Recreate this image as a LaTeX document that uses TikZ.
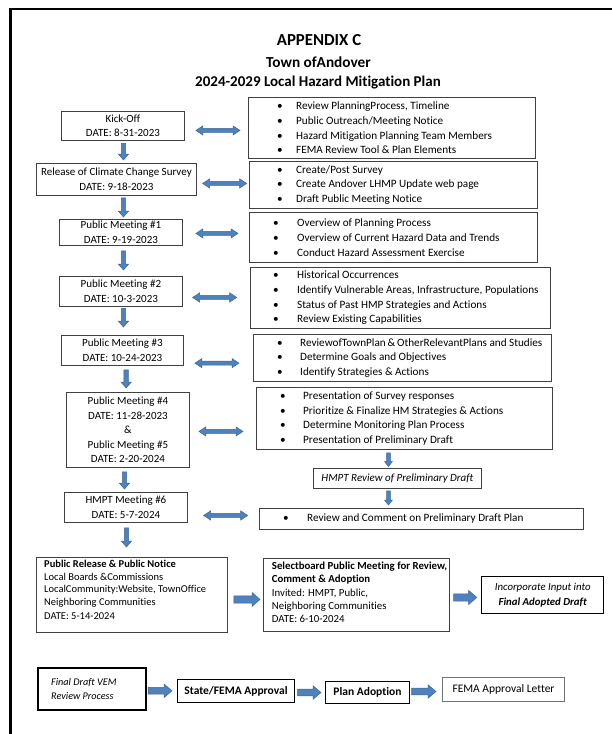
\documentclass[tikz,border=0pt]{standalone}
\usepackage{fontspec}
\setmainfont{Carlito}[Ligatures=NoCommon]
\usetikzlibrary{calc}
\definecolor{arrfill}{HTML}{4F81BD}
\definecolor{arrline}{HTML}{3C6897}
\definecolor{boxc}{HTML}{404040}
\newcommand\bl[2][19pt]{\makebox[#1][l]{\textbullet}#2}
% double horizontal block arrow: from, to, shaft half, head half, head length
\newcommand\dblarrow[5]{\filldraw[arrowst] let \p1=(#1),\p2=(#2) in (\x1,\y1) -- (\x1+#5,\y1+#4) -- (\x1+#5,\y1+#3) -- (\x2-#5,\y1+#3) -- (\x2-#5,\y1+#4) -- (\x2,\y1) -- (\x2-#5,\y1-#4) -- (\x2-#5,\y1-#3) -- (\x1+#5,\y1-#3) -- (\x1+#5,\y1-#4) -- cycle;}
% downward block arrow
\newcommand\dnarr[5]{\filldraw[arrowst] let \p1=(#1),\p2=(#2) in (\x1-#3,\y1) -- (\x1+#3,\y1) -- (\x1+#3,\y2+#5) -- (\x1+#4,\y2+#5) -- (\x1,\y2) -- (\x1-#4,\y2+#5) -- (\x1-#3,\y2+#5) -- cycle;}
% rightward block arrow
\newcommand\rtarr[5]{\filldraw[arrowst] let \p1=(#1),\p2=(#2) in (\x1,\y1+#3) -- (\x2-#5,\y1+#3) -- (\x2-#5,\y1+#4) -- (\x2,\y1) -- (\x2-#5,\y1-#4) -- (\x2-#5,\y1-#3) -- (\x1,\y1-#3) -- cycle;}
\begin{document}
\begin{tikzpicture}[x=1pt,y=-1pt,
  arrowst/.style={fill=arrfill,draw=arrline,line width=0.5pt,line join=miter},
  lbox/.style={draw=boxc,line width=0.9pt,align=center,inner sep=0pt,anchor=north west,
    font=\fontsize{11}{14.5}\selectfont},
  rbox/.style={draw=boxc,line width=0.9pt,inner sep=0pt,anchor=north west},
  list/.style={align=left,inner sep=0pt,anchor=west,font=\fontsize{11.2}{14.7}\selectfont},
  title/.style={inner sep=0pt,font=\bfseries}]
\useasboundingbox (0,0) rectangle (612,734);
\fill[white] (0,0) rectangle (612,734);
\draw[line width=2.6pt] (10.5,740) -- (10.5,9) -- (620,9);

% titles
\node[title,font=\fontsize{16.8}{18}\bfseries\selectfont] (t1) at (319,40.5) {APPENDIX C};
\node[title,font=\fontsize{15.3}{17}\bfseries\selectfont] (t2) at (318.5,62) {Town ofAndover};
\node[title,font=\fontsize{15}{17}\bfseries\selectfont] (t3) at (318,83) {2024-2029 Local Hazard Mitigation Plan};

% left column
\node[lbox,minimum width=123,minimum height=29] (kick) at (61,111) {Kick-Off\\DATE: 8-31-2023};
\node[lbox,minimum width=160,minimum height=32] (rel) at (36,163) {Release of Climate Change Survey\\DATE: 9-18-2023};
\node[lbox,minimum width=123,minimum height=26] (pm1) at (59,219) {Public Meeting \#1\\DATE: 9-19-2023};
\node[lbox,minimum width=123,minimum height=30] (pm2) at (59,276) {Public Meeting \#2\\DATE: 10-3-2023};
\node[lbox,minimum width=122,minimum height=30] (pm3) at (61,335) {Public Meeting \#3\\DATE: 10-24-2023};
\node[lbox,minimum width=123,minimum height=75] (pm45) at (66,392) {Public Meeting \#4\\DATE: 11-28-2023\\\&\\Public Meeting \#5\\DATE: 2-20-2024};
\node[lbox,minimum width=123,minimum height=30] (hm6) at (64,492) {HMPT Meeting \#6\\DATE: 5-7-2024};

% right column
\node[rbox,minimum width=287,minimum height=61] (r1) at (248,97) {};
\node[list] (r1t) at ($(r1.west)+(29,0)$) {\bl{Review PlanningProcess, Timeline}\\\bl{Public Outreach/Meeting Notice}\\\bl{Hazard Mitigation Planning Team Members}\\\bl{FEMA Review Tool \& Plan Elements}};
\node[rbox,minimum width=288,minimum height=47] (r2) at (249,161) {};
\node[list] (r2t) at ($(r2.west)+(28,0)$) {\bl{Create/Post Survey}\\\bl{Create Andover LHMP Update web page}\\\bl{Draft Public Meeting Notice}};
\node[rbox,minimum width=288,minimum height=50] (r3) at (249,212) {};
\node[list] (r3t) at ($(r3.west)+(24,0)$) {\bl[24pt]{Overview of Planning Process}\\\bl[24pt]{Overview of Current Hazard Data and Trends}\\\bl[24pt]{Conduct Hazard Assessment Exercise}};
\node[rbox,minimum width=300,minimum height=61] (r4) at (250,267) {};
\node[list] (r4t) at ($(r4.west)+(23,0)$) {\bl[24pt]{Historical Occurrences}\\\bl[24pt]{Identify Vulnerable Areas, Infrastructure, Populations}\\\bl[24pt]{Status of Past HMP Strategies and Actions}\\\bl[24pt]{Review Existing Capabilities}};
\node[rbox,minimum width=298,minimum height=47] (r5) at (253,334) {};
\node[list] (r5t) at ($(r5.west)+(24,0)$) {\bl[23pt]{ReviewofTownPlan\,\&\,OtherRelevantPlans and Studies}\\\bl[23pt]{Determine Goals and Objectives}\\\bl[23pt]{Identify Strategies \& Actions}};
\node[rbox,minimum width=296,minimum height=62] (r6) at (256,387) {};
\node[list] (r6t) at ($(r6.west)+(24,0)$) {\bl[23pt]{Presentation of Survey responses}\\\bl[23pt]{Prioritize \& Finalize HM Strategies \& Actions}\\\bl[23pt]{Determine Monitoring Plan Process}\\\bl[23pt]{Presentation of Preliminary Draft}};
\node[rbox,minimum width=168,minimum height=20,font=\fontsize{11}{13}\itshape\selectfont] (hrev) at (313,468) {HMPT Review of Preliminary Draft};
\node[rbox,minimum width=324,minimum height=21] (r7) at (259,508) {};
\node[list] (r7t) at ($(r7.west)+(24,0)$) {\bl[24pt]{Review and Comment on Preliminary Draft Plan}};

% lower boxes
\node[rbox,minimum width=191,minimum height=75] (pub) at (36,557) {};
\node[inner sep=0pt,align=left,anchor=north west,font=\fontsize{10.5}{12.6}\selectfont] (pubt) at ($(pub.north west)+(8,3)$) {\textbf{Public Release \& Public Notice}\\Local Boards \&Commissions\\LocalCommunity:Website, TownOffice\\Neighboring Communities\\[1.5pt]DATE: 5-14-2024};
\node[rbox,minimum width=186,minimum height=73] (selb) at (263,558) {};
\node[inner sep=0pt,align=left,anchor=north west,font=\fontsize{10.8}{13.2}\selectfont] (selbt) at ($(selb.north west)+(8.7,4)$) {\textbf{Selectboard Public Meeting for Review,}\\\textbf{Comment \& Adoption}\\Invited: HMPT, Public,\\Neighboring Communities\\DATE: 6-10-2024};
\node[lbox,line width=1.4pt,draw=black,minimum width=122,minimum height=37,font=\fontsize{10.8}{15}\itshape\selectfont] (inc) at (481,576) {Incorporate Input into\\\textbf{Final Adopted Draft}};

% bottom row
\node[rbox,draw=black,line width=1.6pt,minimum width=108,minimum height=42] (vem) at (37,667) {};
\node[inner sep=0pt,align=left,anchor=west,font=\fontsize{10.2}{14.3}\itshape\selectfont] (vemt) at ($(vem.west)+(14,0)$) {Final Draft VEM\\Review Process};
\node[lbox,draw=black,line width=1pt,minimum width=117,minimum height=23,font=\fontsize{11.5}{13}\bfseries\selectfont] (state) at (177,679) {State/FEMA Approval};
\node[lbox,draw=black,line width=1pt,minimum width=84,minimum height=22,font=\fontsize{11.5}{13}\bfseries\selectfont] (plan) at (325,681) {Plan Adoption};
\node[lbox,draw=black!55,line width=1pt,minimum width=122,minimum height=24,font=\fontsize{11.5}{13}\selectfont] (fema) at (442,677) {FEMA Approval Letter};

% double arrows
\dblarrow{$(kick.east)+(11,4.5)$}{$(r1.west)+(-8,0)$}{2pt}{4.6pt}{7pt}
\dblarrow{$(rel.east)+(5.7,4)$}{$(r2.west)+(-2.3,0)$}{2pt}{4.6pt}{7pt}
\dblarrow{$(pm1.east)+(13,1)$}{$(r3.west)+(-11,0)$}{2pt}{4.6pt}{7pt}
\dblarrow{$(pm2.east)+(9.7,6)$}{$(r4.west)+(-13.3,0)$}{2pt}{4.6pt}{7pt}
\dblarrow{$(pm3.east)+(11,12.7)$}{$(r5.west)+(-14,0)$}{2pt}{4.6pt}{7pt}
\dblarrow{$(pm45.east)+(9,1.5)$}{$(r6.west)+(-13,0)$}{2pt}{4.6pt}{7pt}
\dblarrow{$(hm6.east)+(15.7,8)$}{$(r7.west)+(-11.3,0)$}{2pt}{4.6pt}{7pt}

% down arrows
\dnarr{$(kick.south)+(0.5,2.5)$}{$(rel.north)+(0,-3)$}{2.2pt}{5.2pt}{6pt}
\dnarr{$(rel.south)+(7,2)$}{$(pm1.north)+(0,-2)$}{2.2pt}{5.2pt}{6pt}
\dnarr{$(pm1.south)+(2.5,5)$}{$(pm2.north)+(0,-6)$}{2.2pt}{5.2pt}{6pt}
\dnarr{$(pm2.south)+(2.5,1.5)$}{$(pm3.north)+(0,-8)$}{2.2pt}{5.2pt}{6pt}
\dnarr{$(pm3.south)+(3.7,4)$}{$(pm45.north)+(0,-4)$}{2.2pt}{5.2pt}{6pt}
\dnarr{$(pm45.south)+(-3.5,4)$}{$(hm6.north)+(0,-3)$}{2.2pt}{5.2pt}{6pt}
\dnarr{$(hm6.south)+(0.5,5)$}{$(pub.north)+(0,-10)$}{2.2pt}{5.2pt}{6pt}
\dnarr{$(r6.south)+(-16,3)$}{$(hrev.north)+(0,-1.5)$}{1.8pt}{4pt}{5pt}
\dnarr{$(hrev.south)+(-9,2)$}{$(r7.north)+(0,-3)$}{1.8pt}{4pt}{5pt}

% right arrows
\rtarr{$(pub.east)+(6,4.5)$}{$(selb.west)+(-3,0)$}{3.6pt}{7pt}{8pt}
\rtarr{$(selb.east)+(3.7,2.5)$}{$(inc.west)+(-4.3,0)$}{3.6pt}{7pt}{8pt}
\rtarr{$(vem.east)+(1.5,2)$}{$(state.west)+(-5,0)$}{3.4pt}{6.8pt}{8pt}
\rtarr{$(state.east)+(2.7,1.5)$}{$(plan.west)+(-4,0)$}{3.4pt}{6.8pt}{8pt}
\rtarr{$(plan.east)+(1.7,-1)$}{$(fema.west)+(-6,0)$}{3.4pt}{6.8pt}{8pt}
\end{tikzpicture}
\end{document}
